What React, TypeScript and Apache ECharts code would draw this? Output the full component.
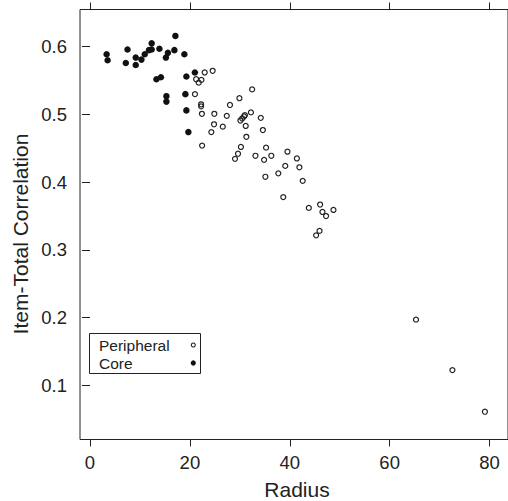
import React, { useEffect, useRef } from "react";
import * as echarts from "echarts";

// Peripheral items: [radius, item-total correlation]
const peripheralRadius = [
  22.97, 24.56, 21.25, 21.77, 22.31, 32.47, 21.02, 29.92, 22.25, 22.25,
  28.03, 22.41, 24.9, 27.39, 32.23, 31.02, 30.12, 30.48, 30.84, 34.2,
  24.84, 26.59, 24.3, 31.18, 34.62, 31.31, 22.45, 30.22, 29.64, 29.04,
  35.26, 33.13, 34.86, 36.31, 39.54, 41.43, 39.1, 41.93, 37.71, 35.12,
  42.59, 38.7, 43.82, 46.08, 46.55, 47.27, 48.75, 45.96, 45.28, 65.28,
  72.57, 79.08,
];
const peripheralCorr = [
  0.562, 0.5645, 0.552, 0.547, 0.551, 0.537, 0.53, 0.524, 0.515, 0.512,
  0.514, 0.501, 0.501, 0.498, 0.503, 0.499, 0.491, 0.494, 0.497, 0.495,
  0.4855, 0.482, 0.474, 0.483, 0.477, 0.467, 0.454, 0.452, 0.442, 0.4345,
  0.451, 0.439, 0.433, 0.439, 0.445, 0.435, 0.424, 0.422, 0.413, 0.408,
  0.402, 0.378, 0.362, 0.367, 0.356, 0.35, 0.359, 0.328, 0.3215, 0.197,
  0.1225, 0.061,
];

// Core items
const coreRadius = [
  3.33, 3.53, 7.51, 7.17, 9.16, 9.16, 10.3, 10.96, 11.8, 12.35,
  12.35, 13.9, 15.6, 15.2, 17.1, 16.9, 18.9, 13.3, 14.2, 19.3,
  21.0, 15.3, 15.3, 19.1, 19.3, 19.7,
];
const coreCorr = [
  0.589, 0.58, 0.596, 0.576, 0.584, 0.573, 0.581, 0.589, 0.595, 0.605,
  0.596, 0.597, 0.591, 0.584, 0.616, 0.595, 0.589, 0.552, 0.555, 0.556,
  0.562, 0.527, 0.519, 0.53, 0.506, 0.474,
];

const xTicks = [0, 20, 40, 60, 80];
const yTicks = [0.1, 0.2, 0.3, 0.4, 0.5, 0.6];
const legendLabels = ["Peripheral", "Core"];

const FONT = "'Liberation Sans', Arial, Helvetica, sans-serif";
const INK = "#222";

export default function App() {
  const ref = useRef<HTMLDivElement>(null);

  useEffect(() => {
    if (!ref.current) return;
    const chart = echarts.init(ref.current, undefined, { renderer: "svg" });

    const peripheral = peripheralRadius.map((r, i) => [r, peripheralCorr[i]]);
    const core = coreRadius.map((r, i) => [r, coreCorr[i]]);

    const xMin = -2;
    const xMax = 83.7;
    const yMin = 0.02;
    const yMax = 0.655;

    chart.setOption({
      animation: false,
      grid: {
        left: 80,
        top: 9.5,
        width: 430,
        height: 430,
        show: true,
        borderColor: INK,
        borderWidth: 1,
        backgroundColor: "transparent",
      },
      xAxis: [
        {
          type: "value",
          min: xMin,
          max: xMax,
          position: "bottom",
          axisLine: { show: false },
          splitLine: { show: false },
          axisTick: {
            show: true,
            length: 7,
            customValues: xTicks,
            lineStyle: { color: INK, width: 1 },
          },
          axisLabel: {
            show: true,
            customValues: xTicks,
            margin: 13,
            fontSize: 18.5,
            fontFamily: FONT,
            color: INK,
          },
        },
        {
          type: "value",
          min: xMin,
          max: xMax,
          position: "top",
          axisLine: { show: false },
          splitLine: { show: false },
          axisTick: {
            show: true,
            length: 7,
            customValues: xTicks,
            lineStyle: { color: INK, width: 1 },
          },
          axisLabel: { show: false },
        },
      ],
      yAxis: [
        {
          type: "value",
          min: yMin,
          max: yMax,
          axisLine: { show: false },
          splitLine: { show: false },
          axisTick: {
            show: true,
            length: 8,
            customValues: yTicks,
            lineStyle: { color: INK, width: 1 },
          },
          axisLabel: {
            show: true,
            customValues: yTicks,
            margin: 13,
            fontSize: 18.5,
            fontFamily: FONT,
            color: INK,
            formatter: (v: number) => v.toFixed(1),
          },
        },
      ],
      series: [
        {
          name: "Peripheral",
          type: "scatter",
          data: peripheral,
          symbol: "circle",
          symbolSize: 5,
          itemStyle: {
            color: "rgba(0,0,0,0)",
            borderColor: INK,
            borderWidth: 1.2,
            opacity: 1,
          },
        },
        {
          name: "Core",
          type: "scatter",
          data: core,
          symbol: "circle",
          symbolSize: 6.5,
          itemStyle: { color: "#111", opacity: 1 },
        },
      ],
      graphic: [
        {
          type: "text",
          x: 20,
          y: 234,
          rotation: Math.PI / 2,
          style: {
            text: "Item-Total Correlation",
            fontSize: 21,
            fontFamily: FONT,
            fill: INK,
            textAlign: "center",
            textVerticalAlign: "middle",
          },
        },
        {
          type: "text",
          x: 297,
          y: 489,
          style: {
            text: "Radius",
            fontSize: 21,
            fontFamily: FONT,
            fill: INK,
            textAlign: "center",
            textVerticalAlign: "middle",
          },
        },
        {
          type: "rect",
          shape: { x: 89.5, y: 333.5, width: 111, height: 40 },
          style: { fill: "#fff", stroke: INK, lineWidth: 1 },
          z: 10,
        },
        {
          type: "text",
          x: 99,
          y: 345,
          z: 11,
          style: {
            text: legendLabels[0],
            fontSize: 15.5,
            fontFamily: FONT,
            fill: INK,
            textAlign: "left",
            textVerticalAlign: "middle",
          },
        },
        {
          type: "text",
          x: 99,
          y: 363,
          z: 11,
          style: {
            text: legendLabels[1],
            fontSize: 15.5,
            fontFamily: FONT,
            fill: INK,
            textAlign: "left",
            textVerticalAlign: "middle",
          },
        },
        {
          type: "circle",
          z: 11,
          shape: { cx: 193.3, cy: 345, r: 2 },
          style: { fill: "none", stroke: INK, lineWidth: 1.1 },
        },
        {
          type: "circle",
          z: 11,
          shape: { cx: 193.3, cy: 363, r: 2.6 },
          style: { fill: "#111" },
        },
      ],
    });

    return () => chart.dispose();
  }, []);

  return (
    <div
      ref={ref}
      style={{ position: "absolute", left: 0, top: 0, width: 508, height: 501, background: "#fff" }}
    />
  );
}
